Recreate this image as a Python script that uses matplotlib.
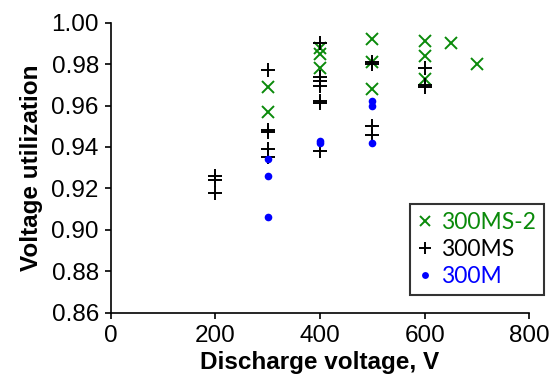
import matplotlib
matplotlib.use("Agg")
import matplotlib.pyplot as plt

# 300MS-2 (green x)
ms2_x = [300, 300, 400, 400, 400, 500, 500, 500, 600, 600, 600, 650, 700]
ms2_y = [0.969, 0.957, 0.988, 0.985, 0.978, 0.992, 0.981, 0.968, 0.991, 0.984, 0.973, 0.990, 0.980]

# 300MS (black +)
ms_x = [200, 200, 200, 300, 300, 300, 300, 300, 400, 400, 400, 400, 400, 400, 400,
        500, 500, 500, 500, 600, 600, 600]
ms_y = [0.926, 0.924, 0.918, 0.977, 0.948, 0.947, 0.939, 0.935, 0.990, 0.974, 0.972,
        0.9695, 0.962, 0.961, 0.938, 0.981, 0.980, 0.950, 0.946, 0.978, 0.970, 0.969]

# 300M (blue dots)
m_x = [300, 300, 300, 400, 400, 500, 500, 500]
m_y = [0.934, 0.926, 0.906, 0.943, 0.942, 0.962, 0.960, 0.942]

x_ticks = [0, 200, 400, 600, 800]
y_ticks = [0.86, 0.88, 0.90, 0.92, 0.94, 0.96, 0.98, 1.00]

plt.rcParams['font.family'] = ['Liberation Sans', 'DejaVu Sans']

fig = plt.figure(figsize=(5.52, 3.87), dpi=100)
ax = fig.add_axes([0.2005, 0.192, 0.7584, 0.7493])

green = '#0a8a0a'
ax.plot(ms2_x, ms2_y, linestyle='none', marker='x', color=green, markersize=8,
        markeredgewidth=1.4, label='300MS-2')
ax.plot(ms_x, ms_y, linestyle='none', marker='+', color='black', markersize=10,
        markeredgewidth=1.4, label='300MS')
ax.plot(m_x, m_y, linestyle='none', marker='o', color='#0000ff', markersize=5.5,
        markeredgewidth=0, label='300M')

ax.set_xlim(0, 800)
ax.set_ylim(0.86, 1.00)
ax.set_xticks(x_ticks)
ax.set_yticks(y_ticks)
ax.set_yticklabels([f"{v:.2f}" for v in y_ticks])
ax.tick_params(axis='both', labelsize=17.5, direction='out', length=4.5, width=1.2,
               color='black', pad=4)
for s in ['top', 'right']:
    ax.spines[s].set_visible(False)
for s in ['left', 'bottom']:
    ax.spines[s].set_linewidth(1.2)

ax.set_xlabel('Discharge voltage, V', fontsize=17.5, fontweight='bold', labelpad=3)
ax.set_ylabel('Voltage utilization', fontsize=17.5, fontweight='bold', labelpad=6)

leg = ax.legend(loc='lower right', bbox_to_anchor=(1.062, 0.022), frameon=True,
                fancybox=False, edgecolor='black',
                prop={'family': ['Lato', 'DejaVu Sans'], 'size': 16.5},
                handlelength=0.6, handletextpad=0.4, borderpad=0.35,
                labelspacing=0.25, markerscale=0.9)
leg.get_frame().set_linewidth(1.5)
for txt, c in zip(leg.get_texts(), [green, 'black', '#0000ff']):
    txt.set_color(c)

fig.savefig('out.png', dpi=100)
